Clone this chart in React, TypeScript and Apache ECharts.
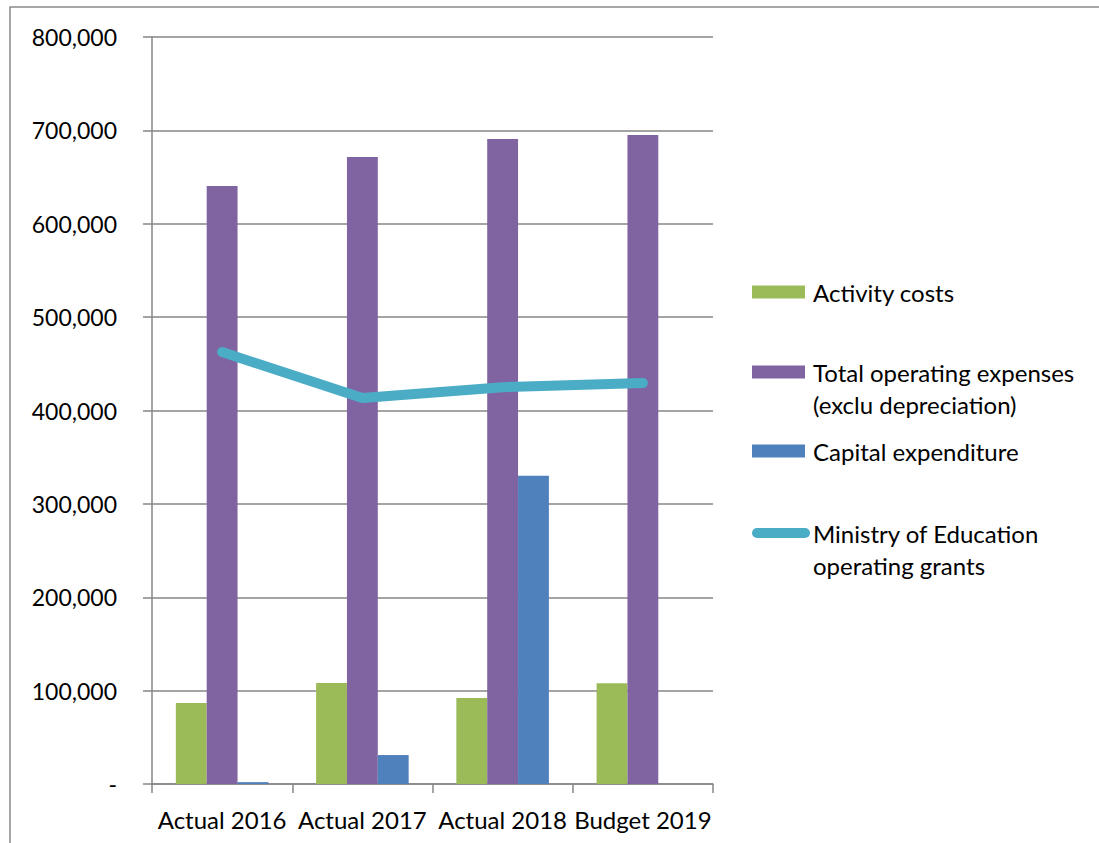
import React, { useEffect, useRef } from "react";
import * as echarts from "echarts";

const categories = ["Actual 2016", "Actual 2017", "Actual 2018", "Budget 2019"];
const activityCosts = [86700, 108200, 92100, 108000];
const totalOperating = [640400, 671500, 690800, 695000];
const capitalExpenditure = [2000, 31000, 330000, 0];
const moeGrants = [462600, 413400, 425000, 429500];

const seriesNames = [
  "Activity costs",
  "Total operating expenses",
  "Capital expenditure",
  "Ministry of Education",
];
const secondLines = ["", "(exclu depreciation)", "", "operating grants"];

const FONT = "Lato";
const TEXT_SIZE = 24;

export default function App() {
  const ref = useRef<HTMLDivElement>(null);
  useEffect(() => {
    document.body.style.margin = "0";
    const chart = echarts.init(ref.current!, null, { renderer: "svg" });
    const legendTops = [280, 360, 439, 521];
    chart.setOption({
      animation: false,
      backgroundColor: "#fff",
      grid: { left: 152, top: 37, right: 386, bottom: 59, containLabel: false },
      legend: seriesNames.map((n, i) => ({
        left: 752,
        top: legendTops[i],
        orient: "vertical",
        itemGap: 0,
        padding: 0,
        selectedMode: false,
        data: [
          i === 3
            ? {
                name: n,
                icon: "path://M5,0 L53,0 A5,5 0 0 1 53,10 L5,10 A5,5 0 0 1 5,0 Z",
              }
            : { name: n, icon: "rect" },
        ],
        itemWidth: i === 3 ? 58 : 53,
        itemHeight: i === 3 ? 10 : 13,
        textStyle: {
          fontFamily: FONT,
          fontSize: TEXT_SIZE,
          color: "#000",
          padding: [0, 0, 0, i === 3 ? -2 : 3],
        },
      })),
      graphic: [
        {
          type: "rect",
          shape: { x: 10, y: 7, width: 1300, height: 1000 },
          style: { fill: "none", stroke: "#8a8a8a", lineWidth: 1.5 },
          silent: true,
        },
        ...secondLines
          .map((t, i) => ({ t, i }))
          .filter((o) => o.t)
          .map((o) => ({
            type: "text",
            left: 813,
            top: legendTops[o.i] + 32,
            style: { text: o.t, fontFamily: FONT, fontSize: TEXT_SIZE, fill: "#000" },
          })),
      ],
      xAxis: {
        type: "category",
        data: categories,
        axisLine: { lineStyle: { color: "#868686", width: 1.5 } },
        axisTick: { show: true, length: 9, lineStyle: { color: "#868686", width: 1.5 } },
        axisLabel: { color: "#000", fontFamily: FONT, fontSize: TEXT_SIZE, margin: 23, interval: 0 },
      },
      yAxis: {
        type: "value",
        min: 0,
        max: 800000,
        interval: 100000,
        axisLine: { show: true, lineStyle: { color: "#868686", width: 1.5 } },
        axisTick: { show: true, length: 9, lineStyle: { color: "#868686", width: 1.5 } },
        splitLine: { lineStyle: { color: "#868686", width: 1.5 } },
        axisLabel: {
          color: "#000",
          fontFamily: FONT,
          fontSize: 23,
          margin: 35,
          formatter: (v: number) => (v === 0 ? "-" : v.toLocaleString("en-US")),
        },
      },
      series: [
        {
          name: seriesNames[0],
          type: "bar",
          data: activityCosts,
          barGap: "0%",
          barCategoryGap: "34%",
          itemStyle: { color: "#9BBB59" },
        },
        {
          name: seriesNames[1],
          type: "bar",
          data: totalOperating,
          barGap: "0%",
          barCategoryGap: "34%",
          itemStyle: { color: "#8064A2" },
        },
        {
          name: seriesNames[2],
          type: "bar",
          data: capitalExpenditure,
          barGap: "0%",
          barCategoryGap: "34%",
          itemStyle: { color: "#4F81BD" },
        },
        {
          name: seriesNames[3],
          type: "line",
          data: moeGrants,
          symbol: "none",
          lineStyle: { color: "#4BACC6", width: 10, cap: "round", join: "round" },
          itemStyle: { color: "#4BACC6" },
          z: 5,
        },
      ],
    });
    return () => chart.dispose();
  }, []);
  return <div ref={ref} style={{ width: 1099, height: 843 }} />;
}
